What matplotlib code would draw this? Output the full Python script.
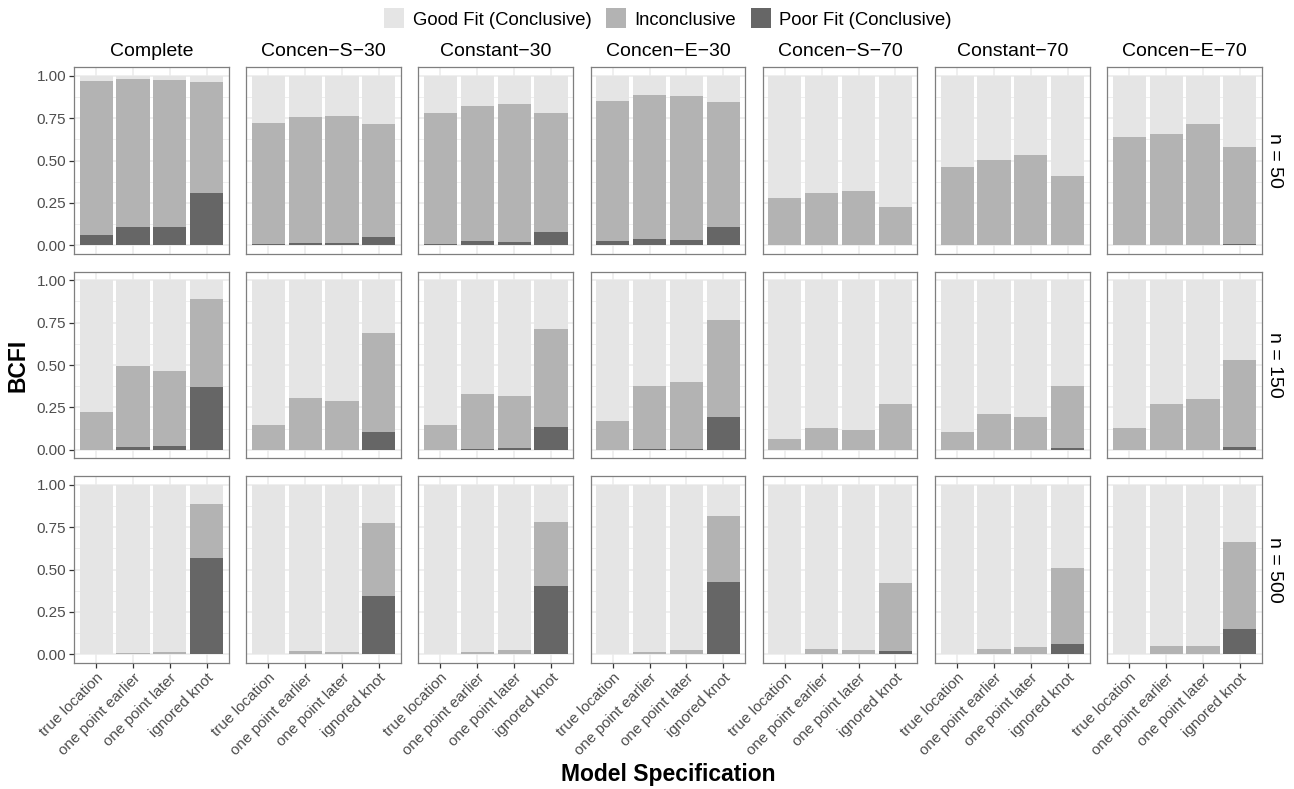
import matplotlib
matplotlib.use('Agg')
import matplotlib.pyplot as plt
from matplotlib.patches import Patch
import numpy as np

plt.rcParams['font.family'] = ['Liberation Sans', 'DejaVu Sans']

specs = ['true location', 'one point earlier', 'one point later', 'ignored knot']
conditions = ['Complete', 'Concen\u2212S\u221230', 'Constant\u221230', 'Concen\u2212E\u221230',
              'Concen\u2212S\u221270', 'Constant\u221270', 'Concen\u2212E\u221270']
sizes = [50, 150, 500]
categories = ['Good Fit (Conclusive)', 'Inconclusive', 'Poor Fit (Conclusive)']

# share of replications flagged as poor fit / inconclusive, one list per condition
poor_n50 = [[0.06, 0.11, 0.11, 0.31],
            [0.01, 0.016, 0.016, 0.048],
            [0.008, 0.028, 0.02, 0.076],
            [0.024, 0.038, 0.034, 0.107],
            [0.0, 0.0, 0.0, 0.0],
            [0.0, 0.0, 0.0, 0.0],
            [0.0, 0.0, 0.0, 0.005]]
incon_n50 = [[0.91, 0.87, 0.865, 0.655],
             [0.713, 0.741, 0.745, 0.665],
             [0.773, 0.791, 0.813, 0.707],
             [0.829, 0.851, 0.847, 0.74],
             [0.278, 0.306, 0.318, 0.227],
             [0.461, 0.501, 0.531, 0.406],
             [0.636, 0.656, 0.714, 0.572]]

poor_n150 = [[0.0, 0.016, 0.021, 0.373],
             [0.0, 0.0, 0.0, 0.103],
             [0.0, 0.004, 0.008, 0.132],
             [0.0, 0.003, 0.003, 0.192],
             [0.0, 0.0, 0.0, 0.0],
             [0.0, 0.0, 0.0, 0.008],
             [0.0, 0.0, 0.0, 0.016]]
incon_n150 = [[0.223, 0.481, 0.445, 0.516],
              [0.148, 0.303, 0.289, 0.588],
              [0.144, 0.326, 0.307, 0.579],
              [0.171, 0.372, 0.395, 0.573],
              [0.062, 0.13, 0.117, 0.27],
              [0.107, 0.212, 0.194, 0.371],
              [0.128, 0.27, 0.297, 0.514]]

poor_n500 = [[0.0, 0.0, 0.0, 0.57],
             [0.0, 0.0, 0.0, 0.344],
             [0.0, 0.0, 0.0, 0.403],
             [0.0, 0.0, 0.0, 0.426],
             [0.0, 0.0, 0.0, 0.021],
             [0.0, 0.0, 0.0, 0.062],
             [0.0, 0.0, 0.0, 0.152]]
incon_n500 = [[0.0, 0.01, 0.012, 0.317],
              [0.0, 0.018, 0.012, 0.43],
              [0.0, 0.014, 0.023, 0.377],
              [0.0, 0.012, 0.025, 0.391],
              [0.002, 0.031, 0.027, 0.397],
              [0.002, 0.031, 0.041, 0.446],
              [0.003, 0.047, 0.051, 0.511]]

poor = [poor_n50, poor_n150, poor_n500]
incon = [incon_n50, incon_n150, incon_n500]

colors = {'Good Fit (Conclusive)': '#E5E5E5',
          'Inconclusive': '#B3B3B3',
          'Poor Fit (Conclusive)': '#666666'}

W, H = 1294, 789
fig = plt.figure(figsize=(W / 100, H / 100), dpi=100)

# panel grid in pixels
left0, top0 = 74, 67.3
pw, pgap = 154.7, 17.5
ph, vgap = 186.5, 18

x = np.arange(1, 5)
for i, n in enumerate(sizes):
    for j, cond in enumerate(conditions):
        l = left0 + j * (pw + pgap)
        t = top0 + i * (ph + vgap)
        ax = fig.add_axes([l / W, 1 - (t + ph) / H, pw / W, ph / H])

        p = np.array(poor[i][j])
        m = np.array(incon[i][j])
        g = 1 - p - m
        ax.bar(x, p, 0.9, color=colors['Poor Fit (Conclusive)'], lw=0, zorder=2)
        ax.bar(x, m, 0.9, bottom=p, color=colors['Inconclusive'], lw=0, zorder=2)
        ax.bar(x, g, 0.9, bottom=p + m, color=colors['Good Fit (Conclusive)'], lw=0, zorder=2)

        ax.set_xlim(0.4, 4.6)
        ax.set_ylim(-0.05, 1.05)
        ax.set_xticks(x)
        ax.set_yticks([0, 0.25, 0.5, 0.75, 1.0])
        ax.set_yticks([0.125, 0.375, 0.625, 0.875], minor=True)
        ax.grid(which='major', color='#EBEBEB', lw=1.1, zorder=0)
        ax.grid(which='minor', axis='y', color='#EBEBEB', lw=0.55, zorder=0)
        ax.set_axisbelow(True)
        for s in ax.spines.values():
            s.set_color('#7F7F7F')
            s.set_linewidth(0.9)

        ax.tick_params(which='minor', length=0)
        ax.tick_params(which='major', color='#333333', width=0.9, length=3.5,
                       labelsize=11, labelcolor='#4D4D4D', pad=2)
        if j == 0:
            ax.set_yticklabels(['0.00', '0.25', '0.50', '0.75', '1.00'])
        else:
            ax.tick_params(axis='y', length=0, labelleft=False)
        if i == len(sizes) - 1:
            ax.set_xticklabels(specs, rotation=45, ha='right', rotation_mode='anchor')
        else:
            ax.tick_params(axis='x', length=0, labelbottom=False)

        if i == 0:
            ax.set_title(cond, fontsize=14, pad=8)
        if j == len(conditions) - 1:
            fig.text(1274 / W, 1 - (t + ph / 2) / H, 'n = {}'.format(n),
                     rotation=270, fontsize=14, ha='center', va='center')

grid_mid = left0 + (7 * pw + 6 * pgap) / 2
fig.text(18 / W, 1 - (top0 + (3 * ph + 2 * vgap) / 2) / H, 'BCFI',
         rotation=90, fontsize=16.5, fontweight='bold', ha='center', va='center')
fig.text(grid_mid / W, 1 - 774 / H, 'Model Specification',
         fontsize=16.5, fontweight='bold', ha='center', va='center')

handles = [Patch(facecolor=colors[c], edgecolor='none', label=c) for c in categories]
fig.legend(handles=handles, loc='center', bbox_to_anchor=(grid_mid / W, 1 - 18.5 / H),
           ncol=3, frameon=False, fontsize=13.3, handlelength=1.08, handleheight=1.29,
           handletextpad=0.46, columnspacing=0.8, borderpad=0)

fig.savefig('out.png', dpi=100)
